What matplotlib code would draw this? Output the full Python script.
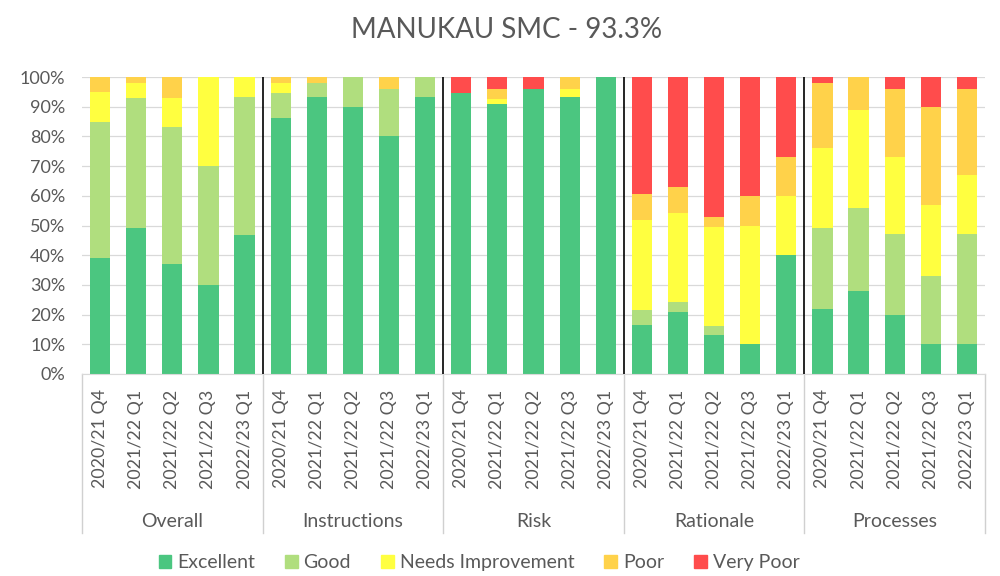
import numpy as np
import matplotlib
matplotlib.use("Agg")
import matplotlib.pyplot as plt
from matplotlib.patches import Patch

plt.rcParams['font.family'] = ['Lato', 'DejaVu Sans']

# categories
groups = ["Overall", "Instructions", "Risk", "Rationale", "Processes"]
periods = ["2020/21 Q4", "2021/22 Q1", "2021/22 Q2", "2021/22 Q3", "2022/23 Q1"]
ratings = ["Excellent", "Good", "Needs Improvement", "Poor", "Very Poor"]

# percentages per bar (5 periods per group, groups in order above)
excellent = [39, 49, 37, 30, 46.7,
             86.3, 93.3, 90, 80, 93.3,
             94.5, 91, 96, 93.3, 100,
             16.5, 20.8, 13, 10, 40,
             22, 28, 20, 10, 10]
good = [46, 44, 46, 40, 46.6,
        8.2, 4.7, 10, 16, 6.7,
        0, 0, 0, 0, 0,
        5.2, 3.5, 3.1, 0, 0,
        27, 28, 27, 23, 37]
needs_impr = [10, 5, 10, 30, 6.7,
              3.5, 0, 0, 0, 0,
              0, 1.7, 0, 2.7, 0,
              30.3, 29.8, 33.4, 40, 20,
              27, 33, 26, 24, 20]
poor = [5, 2, 7, 0, 0,
        2, 2, 0, 4, 0,
        0, 3.3, 0, 4, 0,
        8.6, 8.7, 3.4, 10, 13,
        22, 11, 23, 33, 29]
very_poor = [0, 0, 0, 0, 0,
             0, 0, 0, 0, 0,
             5.5, 4, 4, 0, 0,
             39.4, 37.2, 47.1, 40, 27,
             2, 0, 4, 10, 4]

colors = ['#4BC680', '#B0DE7E', '#FFFF40', '#FFD24A', '#FF4C4C']
txt = '#595959'

series = [excellent, good, needs_impr, poor, very_poor]
n = len(excellent)
x = np.arange(n)

fig = plt.figure(figsize=(10, 5.76), dpi=100)
ax = fig.add_axes([0.082, 0.3507, 0.903, 0.5156])

bottom = np.zeros(n)
for vals, c in zip(series, colors):
    ax.bar(x, vals, 0.56, bottom=bottom, color=c, zorder=2)
    bottom += np.array(vals)

ax.set_xlim(-0.5, n - 0.5)
ax.set_ylim(0, 100)
ax.set_yticks(np.arange(0, 101, 10))
ax.set_yticklabels([f"{v}%" for v in range(0, 101, 10)], color=txt, fontsize=13)
ax.yaxis.grid(True, color='#d9d9d9', linewidth=0.9, zorder=0)
ax.tick_params(axis='y', length=0, pad=12)
for s in ['top', 'right', 'left']:
    ax.spines[s].set_visible(False)
ax.spines['bottom'].set_color('#d9d9d9')

ax.set_xticks(x)
ax.set_xticklabels(periods * len(groups), rotation=90, color=txt, fontsize=12.8)
ax.tick_params(axis='x', length=0, pad=11)

# group separators
trans = ax.get_xaxis_transform()
for i in range(len(groups) + 1):
    b = i * 5 - 0.5
    ax.plot([b, b], [0, -0.535], color='#d0d0d0', linewidth=1, transform=trans, clip_on=False)
    if 0 < i < len(groups):
        ax.axvline(b, color='black', linewidth=1.2, zorder=3)
for i, g in enumerate(groups):
    ax.text(i * 5 + 2, -0.495, g, transform=trans, ha='center', va='center',
            color=txt, fontsize=14)

fig.text(0.507, 0.948, "MANUKAU SMC - 93.3%", ha='center', va='center', color=txt, fontsize=20)

handles = [Patch(color=c, label=r) for c, r in zip(colors, ratings)]
fig.legend(handles=handles, loc='center', bbox_to_anchor=(0.479, 0.0226), ncol=5,
           frameon=False, fontsize=14, handlelength=0.65, handleheight=0.65,
           handletextpad=0.3, columnspacing=1.55, labelcolor=txt)

fig.savefig("out.png", dpi=100)
